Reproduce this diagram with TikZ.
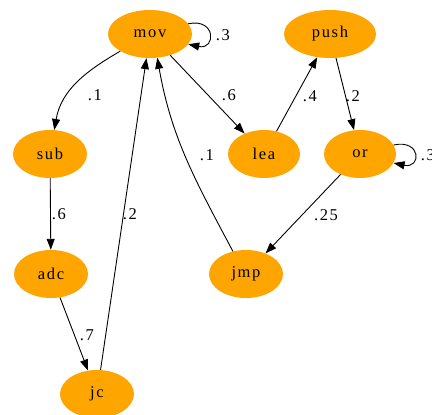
\documentclass[tikz,border=0pt]{standalone}
\usepackage{fontspec}
\setmainfont{Liberation Serif}[LetterSpace=10]
\usetikzlibrary{shapes.geometric,arrows.meta}
\definecolor{gvorange}{RGB}{255,165,0}
\begin{document}
\begin{tikzpicture}[x=1pt,y=-1pt,
  state/.style={ellipse,fill=gvorange,draw=none,inner sep=0pt,
    minimum height=48pt,font=\fontsize{16.5}{18}\selectfont},
  lbl/.style={inner sep=0pt,font=\fontsize{16.5}{18}\selectfont},
  edge/.style={line width=0.9pt,-{Triangle[length=11pt,width=8pt]}}]
\useasboundingbox (0,0) rectangle (432,415);
% states
\node[state,minimum width=84pt] (mov)  at (150,34)  {mov};
\node[state,minimum width=92pt] (push) at (330,34)  {push};
\node[state,minimum width=74pt] (sub)  at (50,154)  {sub};
\node[state,minimum width=72pt] (lea)  at (264,154) {lea};
\node[state,minimum width=72pt] (or)   at (360,154) {or};
\node[state,minimum width=74pt] (adc)  at (51,274)  {adc};
\node[state,minimum width=74pt] (jmp)  at (246,274) {jmp};
\node[state,minimum width=74pt] (jc)   at (97,394)  {jc};
% transitions
\draw[edge] (mov.15) .. controls +(28,-6) and +(28,6) .. (mov.-15);
\draw[edge] (mov) to[out=210,in=80] (sub);
\draw[edge] (mov) -- (lea);
\draw[edge] (lea) -- (push);
\draw[edge] (push) -- (or);
\draw[edge] (or.15) .. controls +(28,-6) and +(28,6) .. (or.-15);
\draw[edge] (or) -- (jmp);
\draw[edge] (jmp.120) to[out=118,in=-80] (mov.-73);
\draw[edge] (sub) -- (adc);
\draw[edge] (adc) -- (jc);
\draw[edge] (jc) -- (mov);
% probabilities
\node[lbl] (lmm) at (223,35)  {.3};
\node[lbl] (lms) at (95,95)   {.1};
\node[lbl] (lml) at (229,95)  {.6};
\node[lbl] (llp) at (310,96)  {.4};
\node[lbl] (lpo) at (353,96)  {.2};
\node[lbl] (loo) at (428,155) {.3};
\node[lbl] (loj) at (326,215) {.25};
\node[lbl] (ljm) at (207,155) {.1};
\node[lbl] (lsa) at (59,214)  {.6};
\node[lbl] (ljc) at (130,214) {.2};
\node[lbl] (lac) at (87,335)  {.7};
\end{tikzpicture}
\end{document}
